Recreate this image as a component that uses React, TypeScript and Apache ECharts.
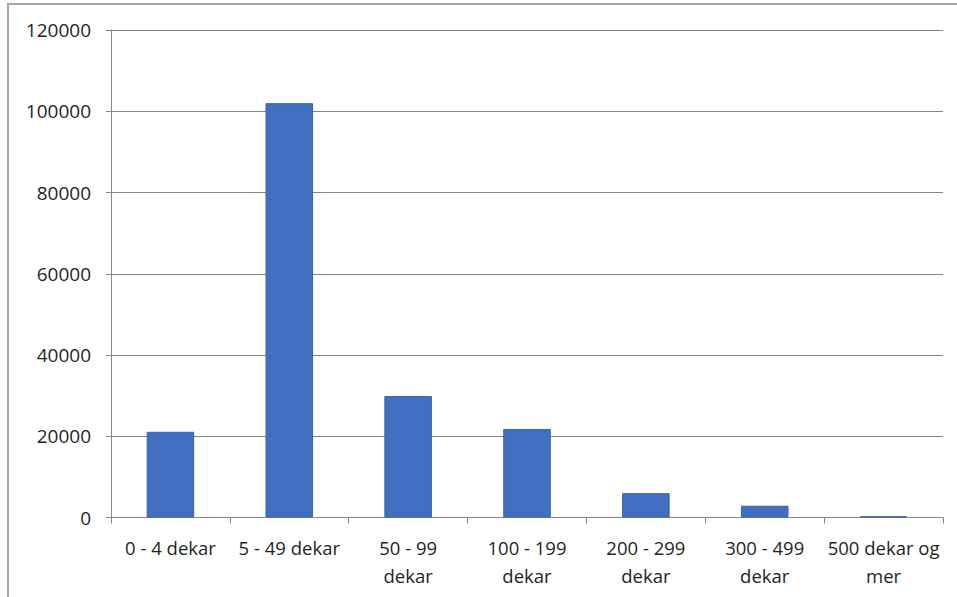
import React, { useEffect, useRef } from "react";
import * as echarts from "echarts";

// Farm holdings grouped by agricultural area (dekar)
const categories = [
  "0 - 4 dekar",
  "5 - 49 dekar",
  "50 - 99\ndekar",
  "100 - 199\ndekar",
  "200 - 299\ndekar",
  "300 - 499\ndekar",
  "500 dekar og\nmer",
];
const holdings = [21100, 102000, 29900, 21800, 6000, 2900, 300];
const yTicks = { min: 0, max: 120000, interval: 20000 };

const W = 957;
const H = 597;
const FONT = "'Open Sans', 'Noto Sans', sans-serif";

export default function App() {
  const ref = useRef<HTMLDivElement>(null);

  useEffect(() => {
    if (!ref.current) return;
    const chart = echarts.init(ref.current, undefined, { renderer: "svg" });
    chart.setOption({
      animation: false,
      backgroundColor: "#ffffff",
      grid: { left: 111, top: 30, right: 14, bottom: 79.5 },
      xAxis: {
        type: "category",
        data: categories,
        axisLine: { lineStyle: { color: "#868686", width: 1 } },
        axisTick: { show: true, length: 6, lineStyle: { color: "#868686" } },
        axisLabel: {
          color: "#1f1f1f",
          fontFamily: FONT,
          fontSize: 18.5,
          lineHeight: 28,
          margin: 16,
          interval: 0,
        },
      },
      yAxis: {
        type: "value",
        min: yTicks.min,
        max: yTicks.max,
        interval: yTicks.interval,
        axisLine: { show: true, lineStyle: { color: "#868686", width: 1 } },
        axisTick: { show: true, length: 5, lineStyle: { color: "#868686" } },
        axisLabel: {
          color: "#1f1f1f",
          fontFamily: FONT,
          fontSize: 19,
          margin: 20,
          formatter: (v: number) => String(v),
        },
        splitLine: { lineStyle: { color: "#868686", width: 1 } },
      },
      series: [
        {
          type: "bar",
          data: holdings,
          barWidth: "40%",
          itemStyle: {
            color: "#4170c2",
            borderColor: "#3a63ad",
            borderWidth: 1,
          },
        },
      ],
      graphic: [
        {
          type: "polyline",
          shape: { points: [[8, H], [8, 4], [W, 4]] },
          style: { stroke: "#a6a6a6", lineWidth: 2, fill: "none" },
          silent: true,
        },
      ],
    });
    return () => chart.dispose();
  }, []);

  return (
    <div
      ref={ref}
      style={{ position: "absolute", left: 0, top: 0, width: W, height: H }}
    />
  );
}
